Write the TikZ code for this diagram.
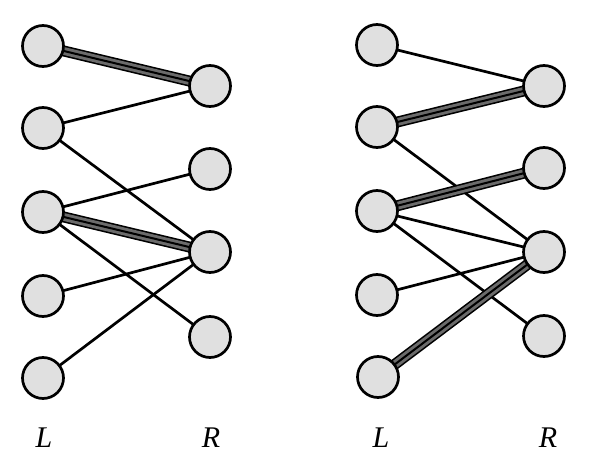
\documentclass[tikz,border=0pt]{standalone}
\usepackage{fontspec}
\setmainfont{Liberation Serif}
\usetikzlibrary{backgrounds}
\begin{document}
\begin{tikzpicture}[x=1pt,y=-1pt,
  vtx/.style={circle, draw=black, line width=2.7pt, fill=black!12, minimum size=41pt, inner sep=0pt},
  thinedge/.style={draw=black, line width=2.7pt},
  matchedge/.style={draw=black, line width=11pt,
     postaction={draw=black!58, line width=7.8pt},
     postaction={draw=black, line width=2pt}},
  lab/.style={inner sep=0pt, font=\fontsize{30}{34}\selectfont\itshape}]
\useasboundingbox (0,0) rectangle (594,468);
% left graph
\node[vtx] (a1) at (43,46) {};
\node[vtx] (a2) at (43,128) {};
\node[vtx] (a3) at (43,212) {};
\node[vtx] (a4) at (43,296) {};
\node[vtx] (a5) at (43,378) {};
\node[vtx] (b1) at (210,86) {};
\node[vtx] (b2) at (210,169) {};
\node[vtx] (b3) at (210,252) {};
\node[vtx] (b4) at (210,337) {};
% right graph
\node[vtx] (c1) at (377,45) {};
\node[vtx] (c2) at (377,127) {};
\node[vtx] (c3) at (377,211) {};
\node[vtx] (c4) at (377,295) {};
\node[vtx] (c5) at (378,377) {};
\node[vtx] (d1) at (544,86) {};
\node[vtx] (d2) at (544,168) {};
\node[vtx] (d3) at (544,252) {};
\node[vtx] (d4) at (544,336) {};
\begin{scope}[on background layer]
\draw[thinedge] (a2.center) -- (b1.center);
\draw[thinedge] (a2.center) -- (b3.center);
\draw[thinedge] (a3.center) -- (b2.center);
\draw[thinedge] (a3.center) -- (b4.center);
\draw[thinedge] (a4.center) -- (b3.center);
\draw[thinedge] (a5.center) -- (b3.center);
\draw[matchedge] (a1.center) -- (b1.center);
\draw[matchedge] (a3.center) -- (b3.center);
\draw[thinedge] (c1.center) -- (d1.center);
\draw[thinedge] (c2.center) -- (d3.center);
\draw[thinedge] (c3.center) -- (d3.center);
\draw[thinedge] (c3.center) -- (d4.center);
\draw[thinedge] (c4.center) -- (d3.center);
\draw[matchedge] (c2.center) -- (d1.center);
\draw[matchedge] (c3.center) -- (d2.center);
\draw[matchedge] (c5.center) -- (d3.center);
\end{scope}
\node[lab] (l1) at (44,438) {L};
\node[lab] (r1) at (211,438) {R};
\node[lab] (l2) at (381,438) {L};
\node[lab] (r2) at (548,438) {R};
\end{tikzpicture}
\end{document}
